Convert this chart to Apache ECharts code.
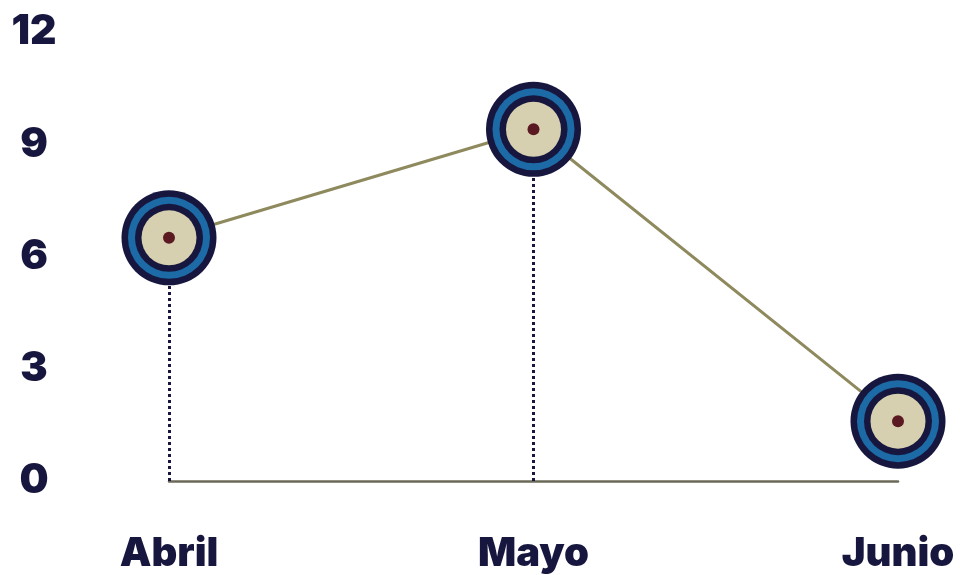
<!DOCTYPE html>
<html><head><meta charset="utf-8">
<script src="https://cdn.jsdelivr.net/npm/echarts@6/dist/echarts.min.js"></script>
<style>html,body{margin:0;padding:0;background:#fff}#c{width:960px;height:575px}</style>
</head><body><div id="c"></div>
<script>
var categories = ['Abril', 'Mayo', 'Junio'];
var values = [6.5, 9.4, 1.6];
var dropLineCategories = ['Abril', 'Mayo'];
var yTicks = [0, 3, 6, 9, 12];

var NAVY = '#17163f', BLUE = '#1c6aa6', BEIGE = '#d6d0b0', DOT = '#5b1a22';
var font = 'Inter';

function ring(name, size, color, z) {
  return { type: 'scatter', name: name, data: values, symbol: 'circle', symbolSize: size,
    itemStyle: { color: color, opacity: 1 }, z: z, silent: true, emphasis: { disabled: true } };
}

var dropData = dropLineCategories.map(function (c) {
  var v = values[categories.indexOf(c)];
  return [{ coord: [c, 0] }, { coord: [c, v] }];
});

var chart = echarts.init(document.getElementById('c'), null, { renderer: 'canvas' });
chart.setOption({
  animation: false,
  grid: { left: 169, right: 62, top: 32, bottom: 94 },
  xAxis: {
    type: 'category', data: categories, boundaryGap: false,
    axisLine: { lineStyle: { color: '#6b6958', width: 2.5 } },
    axisTick: { show: false },
    axisLabel: { color: NAVY, fontFamily: font, fontWeight: 900, fontSize: 40, margin: 53,
      interval: 0 },
    splitLine: { show: false }
  },
  yAxis: {
    type: 'value', min: yTicks[0], max: yTicks[yTicks.length - 1], interval: 3,
    axisLine: { show: false }, axisTick: { show: false }, splitLine: { show: false },
    axisLabel: { color: NAVY, fontFamily: font, fontWeight: 900, fontSize: 41, margin: 135,
      align: 'center', padding: [4, 0, 0, 0] }
  },
  series: [
    { type: 'line', data: values, symbol: 'none', z: 1,
      lineStyle: { color: '#8e8a5e', width: 3 },
      markLine: { silent: true, symbol: 'none', label: { show: false }, z: 1,
        lineStyle: { color: NAVY, type: [3, 3], width: 3 }, data: dropData } },
    ring('outer', 95, NAVY, 3),
    ring('blue', 82, BLUE, 4),
    ring('inner', 68, NAVY, 5),
    ring('fill', 55, BEIGE, 6),
    ring('dot', 12, DOT, 7)
  ]
});
</script></body></html>
